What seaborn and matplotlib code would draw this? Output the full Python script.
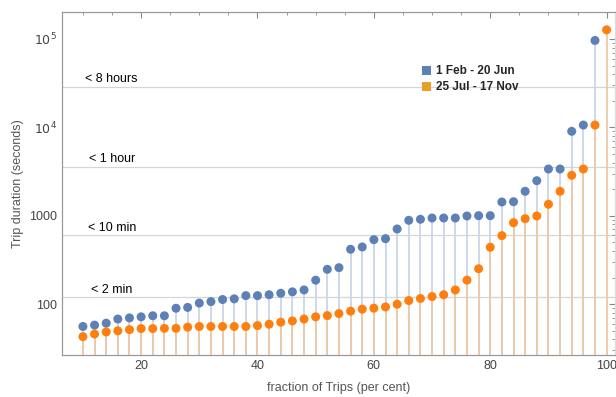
import numpy as np
import pandas as pd
import matplotlib
matplotlib.use("Agg")
import matplotlib.pyplot as plt
import seaborn as sns
from matplotlib.patches import Patch
from matplotlib.ticker import LogLocator, FixedLocator, NullFormatter, MultipleLocator

# percentile of trips
pct = list(range(10, 101, 2))

# trip durations (seconds)
feb_jun = [56, 58, 61, 68, 70, 72, 74, 74, 90, 92, 103, 107, 113, 115, 125,
           125, 128, 133, 138, 145, 187, 248, 259, 418, 444, 537, 551, 709,
           889, 913, 944, 944, 944, 995, 1003, 1003, 1432, 1443, 1892, 2494,
           3381, 3381, 9020, 10620, 96100]
jul_nov = [43, 46, 48.6, 50, 51.6, 53, 53, 53.3, 53.3, 55, 56, 56, 56, 56, 56,
           57.3, 59.4, 62.6, 64.7, 68, 72, 74.3, 78.4, 83.4, 87.9, 90.2, 93.2,
           100, 110, 116, 122, 128, 145, 187, 252, 441, 596, 835, 927, 995,
           1350, 1892, 2870, 3381, 10620, 126800]

series_names = ["1 Feb - 20 Jun", "25 Jul - 17 Nov"]
dot_colors = ["#5E81B5", "#FF7F0E"]
stem_colors = ["#C9D6EA", "#EDC9A6"]
swatch_colors = ["#5E81B5", "#E8A02A"]

limits = [28800, 3600, 600, 120]
limit_labels = ["< 8 hours", "< 1 hour", "< 10 min", "< 2 min"]
limit_x = [10.4, 11.0, 10.9, 11.4]

df = pd.concat([
    pd.DataFrame({"pct": pct[:len(feb_jun)], "dur": feb_jun, "period": series_names[0]}),
    pd.DataFrame({"pct": pct[:len(jul_nov)], "dur": jul_nov, "period": series_names[1]}),
])

sns.set_style("white")
plt.rcParams["font.family"] = ["Liberation Sans", "DejaVu Sans"]

fig = plt.figure(figsize=(6.16, 3.97), dpi=100)
ax = fig.add_axes([0.1006, 0.106, 0.8974, 0.8644])

ymin, ymax = 26.7, 2.03e5
ax.set_yscale("log")
ax.set_ylim(ymin, ymax)
ax.set_xlim(6.4, 101.4)

for y in limits:
    ax.axhline(y, color="#D6D6D6", lw=0.9, zorder=0)
for y, lab, xl in zip(limits, limit_labels, limit_x):
    ax.text(xl, y * 1.04, lab, fontsize=9, color="black", va="bottom", ha="left")

# stems
for name, sc in zip(series_names, stem_colors):
    sub = df[df["period"] == name]
    ax.vlines(sub["pct"], ymin, sub["dur"], color=sc, lw=1.3, zorder=1)

sns.scatterplot(data=df, x="pct", y="dur", hue="period", palette=dot_colors,
                s=42, edgecolor="none", legend=False, ax=ax, zorder=3)

ax.set_xlabel("fraction of Trips (per cent)", color="#555555", fontsize=9, labelpad=7)
ax.set_ylabel("Trip duration (seconds)", color="#555555", fontsize=9, labelpad=4)

ax.xaxis.set_major_locator(FixedLocator([20, 40, 60, 80, 100]))
ax.xaxis.set_minor_locator(MultipleLocator(5))
ax.yaxis.set_major_locator(FixedLocator([100, 1000, 1e4, 1e5]))
ax.yaxis.set_minor_locator(LogLocator(base=10, subs=np.arange(2, 10)))
ax.yaxis.set_minor_formatter(NullFormatter())
ax.set_yticklabels(["100", "1000", r"$10^4$", r"$10^5$"])
ax.tick_params(which="both", direction="in", top=True, right=True,
               colors="#888888", labelcolor="#444444", labelsize=9)
ax.tick_params(which="major", length=4, width=0.8)
ax.tick_params(which="minor", length=2, width=0.6)
for sp in ax.spines.values():
    sp.set_color("#9A9A9A")
    sp.set_linewidth(0.9)
ax.spines["right"].set_color("#DDDDDD")

handles = [Patch(facecolor=c, edgecolor="none") for c in swatch_colors]
leg = ax.legend(handles, series_names, loc="upper left",
                bbox_to_anchor=(0.636, 0.868), frameon=False,
                prop={"weight": "bold", "size": 8.5},
                handlelength=0.8, handleheight=0.8, handletextpad=0.4,
                labelspacing=0.35, borderpad=0.2)

fig.savefig("out.png", dpi=100)
